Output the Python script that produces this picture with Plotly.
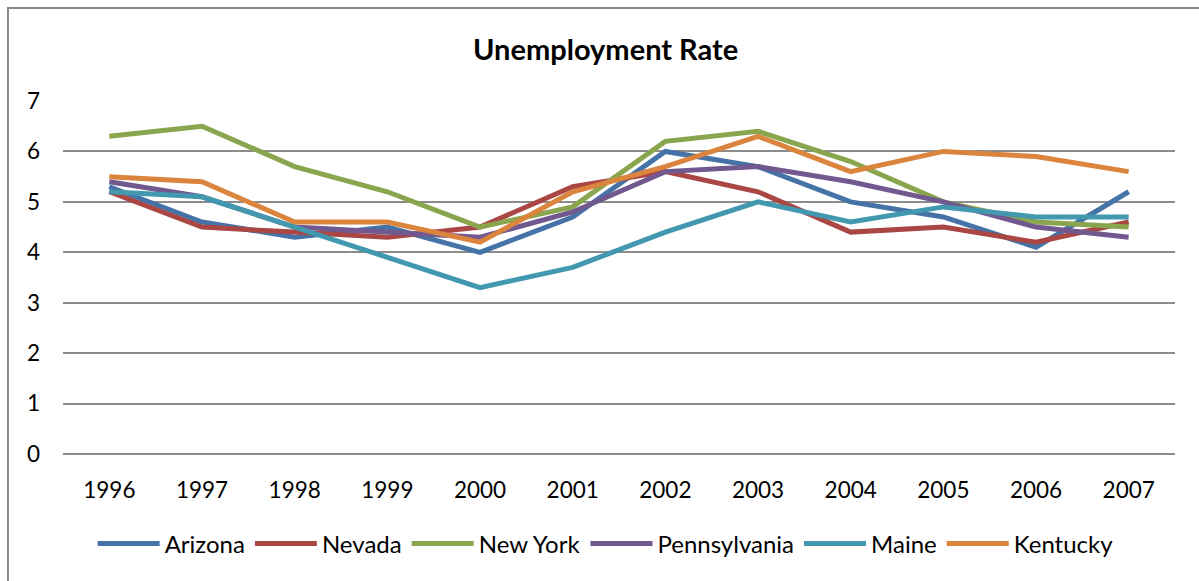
import plotly.graph_objects as go

# Unemployment rate (%) by state, 1996-2007
years = ["1996", "1997", "1998", "1999", "2000", "2001",
         "2002", "2003", "2004", "2005", "2006", "2007"]

arizona = [5.3, 4.6, 4.3, 4.5, 4.0, 4.7, 6.0, 5.7, 5.0, 4.7, 4.1, 5.2]
nevada = [5.2, 4.5, 4.4, 4.3, 4.5, 5.3, 5.6, 5.2, 4.4, 4.5, 4.2, 4.6]
new_york = [6.3, 6.5, 5.7, 5.2, 4.5, 4.9, 6.2, 6.4, 5.8, 5.0, 4.6, 4.5]
pennsylvania = [5.4, 5.1, 4.5, 4.4, 4.3, 4.8, 5.6, 5.7, 5.4, 5.0, 4.5, 4.3]
maine = [5.2, 5.1, 4.5, 3.9, 3.3, 3.7, 4.4, 5.0, 4.6, 4.9, 4.7, 4.7]
kentucky = [5.5, 5.4, 4.6, 4.6, 4.2, 5.2, 5.7, 6.3, 5.6, 6.0, 5.9, 5.6]

series = [
    ("Arizona", arizona, "#4572A7"),
    ("Nevada", nevada, "#AA4643"),
    ("New York", new_york, "#89A54E"),
    ("Pennsylvania", pennsylvania, "#71588F"),
    ("Maine", maine, "#4198AF"),
    ("Kentucky", kentucky, "#DB843D"),
]

FONT = "Lato, Calibri, 'Open Sans', sans-serif"

fig = go.Figure()
for name, values, color in series:
    fig.add_trace(go.Scatter(
        x=years, y=values, name=name, mode="lines",
        line=dict(color=color, width=5),
    ))

fig.update_layout(
    width=1199, height=581,
    margin=dict(l=63, r=24, t=101, b=127),
    paper_bgcolor="white", plot_bgcolor="white",
    font=dict(family=FONT, size=22, color="#000000"),
    title=dict(
        text="<b>Unemployment Rate</b>",
        x=0.488, xref="paper", xanchor="center",
        y=0.914, yref="container", yanchor="middle",
        font=dict(family=FONT, size=29, color="#000000"),
    ),
    showlegend=True,
    legend=dict(
        orientation="h",
        x=0.488, xanchor="center",
        y=-0.255, yanchor="middle",
        font=dict(family=FONT, size=24, color="#000000"),
        itemwidth=62,
        bgcolor="rgba(0,0,0,0)",
    ),
    xaxis=dict(
        type="category",
        range=[-0.5, 11.5],
        showgrid=False, zeroline=False,
        showline=False, ticks="",
        ticklabelstandoff=20,
        tickfont=dict(family=FONT, size=22.5),
    ),
    yaxis=dict(
        range=[0, 7], dtick=1,
        showgrid=True, gridcolor="#8c8c8c", gridwidth=1.5,
        zeroline=True, zerolinecolor="#8c8c8c", zerolinewidth=1.5,
        showline=False, ticks="",
        ticklabelstandoff=22,
        tickfont=dict(family=FONT, size=22.5),
    ),
    shapes=[
        # chart frame: top and left edges
        dict(type="path", xref="paper", yref="paper",
             path="M -0.0495,-0.36 L -0.0495,1.2635 L 1.05,1.2635",
             line=dict(color="#8a8a8a", width=2)),
    ],
)

fig.write_html("out.html")
